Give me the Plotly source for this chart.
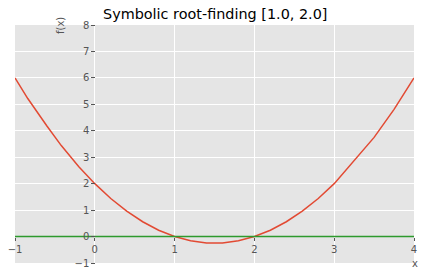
import plotly.graph_objects as go

# Data
curve_x = [-1.0, -0.84, -0.6, -0.42, -0.2, 0.0, 0.2, 0.4, 0.6, 0.8, 1.0, 1.2, 1.4, 1.5,
           1.6, 1.8, 2.0, 2.2, 2.4, 2.6, 2.8, 3.0, 3.24, 3.5, 3.75, 4.0]
curve_y = [6.0, 5.22, 4.18, 3.44, 2.64, 2.0, 1.44, 0.96, 0.56, 0.24, 0.0, -0.16, -0.24, -0.25,
           -0.24, -0.16, 0.0, 0.24, 0.56, 0.96, 1.44, 2.0, 2.82, 3.75, 4.81, 6.0]
zero_x = [-1.0, 4.0]
zero_y = [0.0, 0.0]
x_ticks = [-1, 0, 1, 2, 3, 4]
y_ticks = [-1, 0, 1, 2, 3, 4, 5, 6, 7, 8]
title_text = "Symbolic root-finding [1.0, 2.0]"

FONT = "DejaVu Sans"
TICK = "#555555"

fig = go.Figure()
fig.add_trace(go.Scatter(x=curve_x, y=curve_y, mode="lines",
                         line=dict(color="#E24A33", width=1.5), showlegend=False))
fig.add_trace(go.Scatter(x=zero_x, y=zero_y, mode="lines",
                         line=dict(color="#2e9a2e", width=1.5), showlegend=False))

fig.update_layout(
    width=425, height=278,
    margin=dict(l=15, r=11, t=25, b=15, pad=0),
    paper_bgcolor="white",
    plot_bgcolor="#E5E5E5",
    font=dict(family=FONT, size=10, color=TICK),
    xaxis=dict(range=[-1, 4], tickvals=x_ticks, showgrid=True, gridcolor="white", gridwidth=1,
               zeroline=False, showline=False, ticks="outside", ticklen=3.5, tickwidth=0.8,
               tickcolor=TICK, tickfont=dict(family=FONT, size=10, color=TICK),
               anchor="free", position=1/9, side="bottom", automargin=False,
               fixedrange=True),
    yaxis=dict(range=[-1, 8], tickvals=y_ticks, showgrid=True, gridcolor="white", gridwidth=1,
               zeroline=False, showline=False, ticks="outside", ticklen=3.5, tickwidth=0.8,
               tickcolor=TICK, tickfont=dict(family=FONT, size=10, color=TICK),
               anchor="free", position=0.2, side="left", automargin=False,
               fixedrange=True),
    annotations=[
        dict(text=title_text, xref="paper", yref="paper", x=0.5, y=1, xanchor="center",
             yanchor="bottom", yshift=1, showarrow=False,
             font=dict(family=FONT, size=14.4, color="black")),
        dict(text="f(x)", xref="paper", yref="paper", x=(61 - 15) / 399, y=(263 - 26) / 238,
             xanchor="center", yanchor="middle", textangle=-90, showarrow=False,
             font=dict(family=FONT, size=10, color=TICK)),
        dict(text="x", xref="paper", yref="paper", x=(414.5 - 15) / 399, y=(263 - 263.5) / 238,
             xanchor="center", yanchor="middle", showarrow=False,
             font=dict(family=FONT, size=10, color=TICK)),
    ],
)

fig.write_html("out.html")
